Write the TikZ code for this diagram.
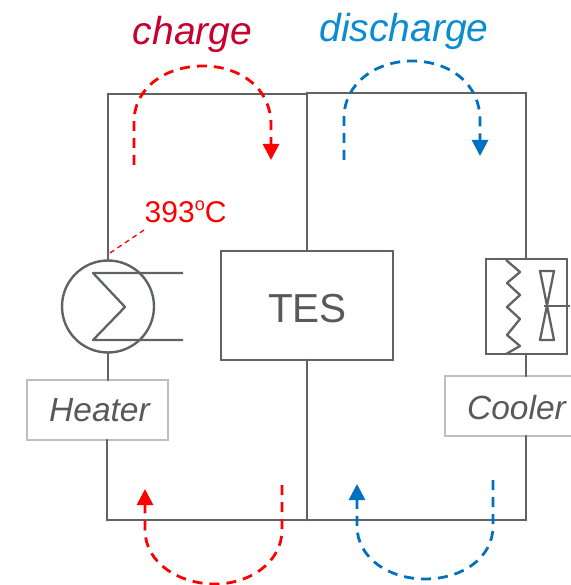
\documentclass[tikz,border=0pt]{standalone}
\usepackage{fontspec}
\setmainfont{Liberation Sans}
\usetikzlibrary{arrows.meta}
\definecolor{wire}{HTML}{5F6362}
\definecolor{lab}{HTML}{595959}
\definecolor{labbox}{HTML}{BFBFBF}
\definecolor{chg}{HTML}{C8002D}
\definecolor{dis}{HTML}{0A8CD2}
\definecolor{flowblue}{HTML}{0070C0}
\tikzset{
  wireline/.style={draw=wire,line width=2.8pt,line cap=round,line join=miter},
  thin wire/.style={draw=wire,line width=2.3pt,line join=round},
  flow/.style={line width=2.8pt,dash pattern=on 10pt off 7pt,-{Triangle[length=16pt,width=16pt]}},
  labelbox/.style={draw=labbox,line width=2pt,inner sep=0pt,outer sep=0pt,minimum height=60pt,font=\itshape\fontsize{33.5}{36}\selectfont,text=lab},
  title/.style={font=\itshape\fontsize{39}{42}\selectfont,inner sep=0pt},
}
\begin{document}
\begin{tikzpicture}[x=1pt,y=-1pt]
\useasboundingbox (0,0) rectangle (570,585);
% corners and free ends
\coordinate (tl) at (108,94);
\coordinate (tk) at (307,94);
\coordinate (tm) at (307,93);
\coordinate (tr) at (526,93);
\coordinate (bl) at (107,520);
\coordinate (bm) at (307,520);
\coordinate (br) at (526,520);
% components
\node[draw=wire,line width=2.6pt,minimum width=172pt,minimum height=109pt,inner sep=0pt,outer sep=0pt] (tes) at (307,305.5) {};
\node[text=lab,font=\fontsize{40.5}{44}\selectfont,inner sep=0pt] (testext) at (307.5,308.5) {TES};
\node[circle,draw=wire,line width=2.4pt,minimum size=92pt,inner sep=0pt,outer sep=0pt] (heatx) at (108,306.5) {};
\node[draw=wire,line width=2.6pt,minimum width=81pt,minimum height=95pt,inner sep=0pt,outer sep=0pt] (coolbox) at (526.5,306.5) {};
\node[labelbox,minimum width=141pt] (heater) at (97.5,410) {\hspace{4pt}Heater};
\node[labelbox,minimum width=143pt,text depth=0pt] (cooler) at (516.5,406) {\raisebox{-2pt}{Cooler}};
% wires
\draw[wireline] (tl) -- (tk);
\draw[wireline] (tm) -- (tr);
\draw[wireline] (bl) -- (bm) -- (br);
\draw[wireline] (tl) -- (heatx.north);
\draw[wireline] (heatx.south) -- (heatx.south |- heater.north);
\draw[wireline] (bl) -- (bl |- heater.south);
\draw[wireline] (tm) -- (tes.north);
\draw[wireline] (tes.south) -- (bm);
\draw[wireline] (tr) -- (coolbox.north -| tr);
\draw[wireline] (coolbox.south -| tr) -- (cooler.north -| tr);
\draw[wireline] (cooler.south -| tr) -- (br);
% heat exchanger coil
\coordinate (hxa) at (183,273);
\coordinate (hxb) at (93,273);
\coordinate (hxc) at (125,307);
\coordinate (hxd) at (93,340);
\coordinate (hxe) at (183,340);
\draw[thin wire] (hxa) -- (hxb) -- (hxc) -- (hxd) -- (hxe);
% cooler coil and fan
\coordinate (z0) at (506,260);
\draw[thin wire] (z0) -- (520,272) -- (507,283) -- (520,295) -- (507,307) -- (520,319) -- (507,335) -- (520,346) -- (506,354);
\coordinate (fa) at (540,271);
\coordinate (fb) at (554,271);
\coordinate (fc) at (540,340);
\coordinate (fd) at (554,340);
\draw[thin wire] (fa) -- (fb) -- (fc) -- (fd) -- cycle;
\coordinate (sa) at (544,306);
\coordinate (sb) at (570,306);
\draw[thin wire] (sa) -- (sb);
% temperature label
\node[text=red,inner sep=0pt,anchor=west,font=\fontsize{30}{32}\selectfont] (temp) at (144.5,212) {393\raisebox{0.42em}{\fontsize{18}{20}\selectfont o}C};
\coordinate (tempfoot) at (144,230);
\coordinate (tempend) at (110,253);
\draw[red,line width=1.3pt,dash pattern=on 5pt off 4pt] (tempfoot) -- (tempend);
% titles
\node[title,text=chg] (charge) at (192.5,34) {charge};
\node[title,text=dis] (discharge) at (404,31) {discharge};
% flow arrows
\coordinate (c1s) at (134,165); \coordinate (c1e) at (271,160);
\draw[flow,red] (c1s) -- (134,122) .. controls (134,88) and (165,66) .. (203,66) .. controls (240,66) and (271,88) .. (271,125) -- (c1e);
\coordinate (d1s) at (344,160); \coordinate (d1e) at (480,156);
\draw[flow,flowblue] (d1s) -- (344,118) .. controls (344,84) and (375,61) .. (412,61) .. controls (450,61) and (480,84) .. (480,120) -- (d1e);
\coordinate (c2s) at (282,485); \coordinate (c2e) at (145,489);
\draw[flow,red] (c2s) -- (282,530) .. controls (282,562) and (250,584) .. (215,584) .. controls (178,584) and (145,562) .. (145,530) -- (c2e);
\coordinate (d2s) at (493,480); \coordinate (d2e) at (357,484);
\draw[flow,flowblue] (d2s) -- (493,526) .. controls (493,558) and (462,579) .. (425,579) .. controls (389,579) and (357,558) .. (357,526) -- (d2e);
\end{tikzpicture}
\end{document}
